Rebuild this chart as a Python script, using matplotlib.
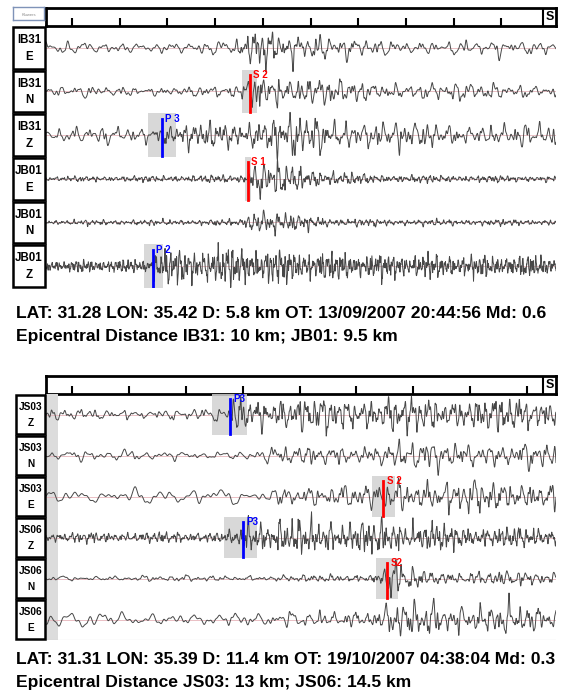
import numpy as np
import matplotlib
matplotlib.use("Agg")
import matplotlib.pyplot as plt
from matplotlib.patches import Rectangle

plt.rcParams['font.family'] = ['Liberation Sans', 'DejaVu Sans']

W, H = 561, 694

# ---- event 1: IB31 / JB01 ----
ev1_labels = [("IB31", "E"), ("IB31", "N"), ("IB31", "Z"),
              ("JB01", "E"), ("JB01", "N"), ("JB01", "Z")]
ev1_knots = [
    [-0.55, 3.3, 3.7, 3.9, 4.6, 5.5, 7.0, 10.2],
    [-0.55, 3.5, 3.7, 3.9, 4.6, 5.5, 7.0, 10.2],
    [-0.55, 1.6, 1.9, 3.7, 4.0, 5.5, 7.0, 10.2],
    [-0.55, 2.7, 3.6, 3.7, 3.9, 4.8, 6.3, 10.2],
    [-0.55, 3.5, 3.7, 3.9, 4.5, 5.5, 7.0, 10.2],
    [-0.55, 1.6, 1.75, 3.5, 4.8, 6.0, 8.0, 10.2],
]
ev1_amp = [
    [0.10, 0.11, 0.20, 0.40, 0.30, 0.16, 0.13, 0.11],
    [0.08, 0.09, 0.25, 0.35, 0.25, 0.20, 0.15, 0.12],
    [0.12, 0.14, 0.20, 0.22, 0.35, 0.30, 0.22, 0.18],
    [0.04, 0.06, 0.07, 0.20, 0.35, 0.18, 0.07, 0.05],
    [0.04, 0.05, 0.15, 0.32, 0.15, 0.07, 0.05, 0.05],
    [0.10, 0.11, 0.26, 0.32, 0.27, 0.21, 0.18, 0.18],
]
ev1_freq = [
    [2.5, 3.0, 6.0, 6.0, 5.0, 4.0, 3.5, 3.0],
    [3.0, 4.0, 6.0, 6.0, 5.0, 4.5, 4.0, 3.5],
    [3.0, 4.0, 6.0, 6.0, 6.0, 5.0, 4.5, 4.0],
    [8.0, 8.0, 8.0, 6.0, 6.0, 7.0, 8.0, 8.0],
    [8.0, 8.0, 6.0, 6.0, 7.0, 8.0, 8.0, 8.0],
    [12.0, 12.0, 10.0, 10.0, 10.0, 11.0, 11.0, 11.0],
]
# (label, row, time, colour, box before, box after)
ev1_picks = [("S 2", 1, 3.73, "red", 0.17, 0.15),
             ("P 3", 2, 1.89, "blue", 0.30, 0.30),
             ("S 1", 3, 3.69, "red", 0.06, 0.06),
             ("P 2", 5, 1.70, "blue", 0.19, 0.21)]
ev1_text = ["LAT: 31.28 LON: 35.42 D: 5.8 km OT: 13/09/2007 20:44:56 Md: 0.6",
            "Epicentral Distance IB31: 10 km; JB01: 9.5 km"]

# ---- event 2: JS03 / JS06 ----
ev2_labels = [("JS03", "Z"), ("JS03", "N"), ("JS03", "E"),
              ("JS06", "Z"), ("JS06", "N"), ("JS06", "E")]
ev2_knots = [
    [-0.46, 2.7, 2.85, 8.5],
    [-0.46, 3.2, 3.45, 3.7, 5.3, 5.6, 8.5],
    [-0.46, 3.4, 3.7, 5.45, 5.6, 8.5],
    [-0.46, 2.9, 3.05, 6.2, 7.0, 8.5],
    [-0.46, 3.5, 5.4, 5.55, 5.8, 6.3, 8.5],
    [-0.46, 3.5, 5.4, 5.6, 7.6, 8.5],
]
ev2_amp = [
    [0.09, 0.11, 0.30, 0.30],
    [0.08, 0.09, 0.17, 0.14, 0.20, 0.25, 0.23],
    [0.13, 0.13, 0.20, 0.20, 0.30, 0.27],
    [0.09, 0.10, 0.30, 0.28, 0.19, 0.17],
    [0.05, 0.05, 0.08, 0.35, 0.25, 0.14, 0.12],
    [0.16, 0.11, 0.18, 0.30, 0.27, 0.17],
]
ev2_freq = [
    [4.0, 4.0, 7.0, 7.0],
    [3.0, 3.0, 4.0, 5.0, 5.0, 5.0, 5.0],
    [2.0, 2.0, 5.0, 5.0, 6.0, 6.0],
    [9.0, 9.0, 9.0, 9.0, 9.0, 9.0],
    [3.0, 5.0, 8.0, 6.0, 6.0, 6.0, 6.0],
    [1.8, 3.0, 6.0, 6.0, 6.0, 6.0],
]
ev2_picks = [("P3", 0, 2.78, "blue", 0.32, 0.30),
             ("S 2", 2, 5.47, "red", 0.19, 0.21),
             ("P3", 3, 3.00, "blue", 0.33, 0.26),
             ("S2", 4, 5.54, "red", 0.19, 0.19)]
ev2_text = ["LAT: 31.31 LON: 35.39 D: 11.4 km OT: 19/10/2007 04:38:04 Md: 0.3",
            "Epicentral Distance JS03: 13 km; JS06: 14.5 km"]

fig = plt.figure(figsize=(W / 100, H / 100), dpi=100)


def px_axes(x0, y0, x1, y1):
    return fig.add_axes([x0 / W, 1 - y1 / H, (x1 - x0) / W, (y1 - y0) / H])


def wiggle(t, knots, amp, freq, k):
    # trace shape: envelope and dominant frequency follow the knots
    env = np.interp(t, knots, amp)
    f = np.interp(t, knots, freq)
    ph = np.cumsum(f) * (t[1] - t[0]) * 2 * np.pi
    ratios = [1.0, 1.618, 2.414, 0.61, 3.303, 4.236, 0.37, 2.87, 5.19]
    offs = [0.7, 1.9, 2.3, 0.4, 3.1, 1.3, 2.6, 0.9, 1.7]
    s = np.zeros_like(t)
    for i, (r, o) in enumerate(zip(ratios, offs)):
        s += np.sin(r * ph + o * (k + 1)) / (1 + 0.45 * i)
    # slow beating so the trace does not look periodic
    s *= 0.7 + 0.3 * np.sin(0.23 * ph + k) * np.sin(0.141 * ph + 2 * k)
    s /= s.std()
    return env * s * 0.58


def panel(top, bottom, tick_step_px, labels, knots, amp, freq, picks,
          text, text_y, label_x0, grey_strip, lab_fs):
    x0, x1 = 46, 556
    t0 = -(72 - x0) / tick_step_px
    t1 = (x1 - 72) / tick_step_px
    nticks = int((x1 - 20 - 72) / tick_step_px) + 1

    # time ruler
    r = px_axes(x0, top, x1, top + 18)
    r.set_xlim(t0, t1)
    r.set_ylim(0, 1)
    r.set_xticks(np.arange(nticks))
    r.set_yticks([])
    r.tick_params(axis='x', direction='in', length=6, width=1.5,
                  labelbottom=False)
    for sp in r.spines.values():
        sp.set_linewidth(2)
    sx = 1 - 13 / (x1 - x0)
    r.plot([sx, sx], [0, 1], color='black', lw=1.5, transform=r.transAxes)
    r.text((1 + sx) / 2, 0.5, "S", transform=r.transAxes, ha='center',
           va='center', fontsize=9, fontweight='bold')

    # traces
    ax = px_axes(x0, top + 18, x1, bottom)
    ax.set_xlim(t0, t1)
    ax.set_ylim(6, 0)
    ax.axis('off')
    if grey_strip:
        ax.axvspan(t0, t0 + 12 / tick_step_px, color='#dcdcdc', lw=0)
        ax.plot([t0, t1], [6, 6], color='#c4c4c4', lw=0.8)
    t = np.linspace(t0, t1, 2400)
    for k in range(6):
        base = k + 0.5
        ax.plot([t0, t1], [base, base], color='#e6b4ba', lw=0.6, zorder=1)
        y = wiggle(t, knots[k], amp[k], freq[k], k + (7 if grey_strip else 0))
        ax.plot(t, base - y, color='#474747', lw=0.7, zorder=3)
    for lab, row, tp, col, bl, br in picks:
        ax.add_patch(Rectangle((tp - bl, row), bl + br, 1, color='#d2d2d2',
                               alpha=0.85, lw=0, zorder=2))
        ax.plot([tp, tp], [row + 0.12, row + 0.98], color=col, lw=2, zorder=4)
        ax.text(tp + 0.06, row + 0.12, lab, color=col, fontsize=7,
                fontweight='bold', va='center', ha='left', zorder=5)

    # station labels
    la = px_axes(label_x0, top + 18, x0, bottom)
    la.set_xlim(0, 1)
    la.set_ylim(6, 0)
    la.axis('off')
    for k, (st, comp) in enumerate(labels):
        la.add_patch(Rectangle((0.04, k + 0.02), 0.92, 0.96, fill=False,
                               ec='black', lw=1.8, clip_on=False))
        la.text(0.5, k + 0.32, st, ha='center', va='center',
                fontsize=lab_fs, fontweight='bold')
        la.text(0.5, k + 0.7, comp, ha='center', va='center',
                fontsize=lab_fs, fontweight='bold')

    for i, line in enumerate(text):
        fig.text(16 / W, 1 - (text_y + 23 * i) / H, line, fontsize=12.6,
                 fontweight='bold', va='center', ha='left')


panel(8, 288, 47.7, ev1_labels, ev1_knots, ev1_amp, ev1_freq, ev1_picks,
      ev1_text, 313, 12, False, 8.3)
panel(376, 640, 56.9, ev2_labels, ev2_knots, ev2_amp, ev2_freq, ev2_picks,
      ev2_text, 660, 15, True, 7.3)

# small header box top-left of the first ruler
hb = px_axes(13, 7, 44, 20)
hb.set_xticks([])
hb.set_yticks([])
for sp in hb.spines.values():
    sp.set_color('#7f93b8')
    sp.set_linewidth(1)
hb.text(0.5, 0.35, "Kluwers", fontsize=3, color='#888888', ha='center',
        va='center', transform=hb.transAxes)

fig.savefig("out.png", dpi=100)
